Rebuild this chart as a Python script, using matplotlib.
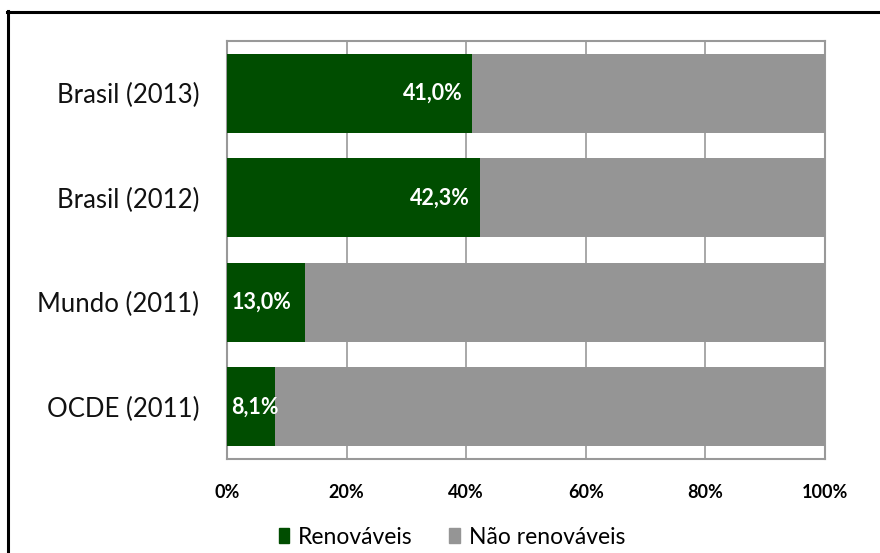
import matplotlib.pyplot as plt
from matplotlib.lines import Line2D

# data
categories = ['OCDE (2011)', 'Mundo (2011)', 'Brasil (2012)', 'Brasil (2013)']
renovaveis = [8.1, 13.0, 42.3, 41.0]
labels = ['8,1%', '13,0%', '42,3%', '41,0%']
xticks = [0, 20, 40, 60, 80, 100]

green = '#004d00'
grey = '#959595'

plt.rcParams['font.family'] = ['Lato', 'DejaVu Sans']

fig = plt.figure(figsize=(8.8, 5.53), dpi=100)
ax = fig.add_axes([227 / 880, 1 - 459 / 553, 598 / 880, 418 / 553])

y = range(len(categories))
nao = [100 - v for v in renovaveis]
ax.barh(y, renovaveis, height=0.76, color=green, zorder=3)
ax.barh(y, nao, left=renovaveis, height=0.76, color=grey, zorder=3)

for i, (v, lab) in enumerate(zip(renovaveis, labels)):
    if v > 30:
        ax.annotate(lab, (v, i), xytext=(-7, 0), textcoords='offset points',
                    ha='right', va='center', color='white', fontsize=15.5,
                    fontweight='bold')
    else:
        ax.annotate(lab, (0, i), xytext=(3, 0), textcoords='offset points',
                    ha='left', va='center', color='white', fontsize=15.5,
                    fontweight='bold')

ax.set_xlim(0, 100)
ax.set_ylim(-0.5, 3.5)
ax.set_yticks(list(y))
ax.set_yticklabels(categories, fontsize=18.5, color='#111111')
ax.set_xticks(xticks)
ax.set_xticklabels([f'{t}%' for t in xticks], fontsize=13, fontweight='bold')
ax.tick_params(axis='y', length=0, pad=20)
ax.tick_params(axis='x', length=0, pad=18)
ax.grid(axis='x', color='#999999', linewidth=1.2, zorder=0)
for s in ax.spines.values():
    s.set_color('#999999')
    s.set_linewidth(1.5)

handles = [plt.Rectangle((0, 0), 1, 1, color=green),
           plt.Rectangle((0, 0), 1, 1, color=grey)]
fig.legend(handles, ['Renováveis', 'Não renováveis'], loc='center',
           bbox_to_anchor=(452 / 880, 1 - 537 / 553), ncol=2, frameon=False,
           fontsize=16.5, handlelength=0.45, handleheight=0.6, handletextpad=0.4,
           columnspacing=1.6)

# black frame of the screenshot
fig.add_artist(Line2D([7.5 / 880, 7.5 / 880], [0, 1 - 11 / 553], color='black', lw=2.2))
fig.add_artist(Line2D([6.5 / 880, 1], [1 - 11.5 / 553, 1 - 11.5 / 553], color='black', lw=2.2))

fig.savefig('out.png', dpi=100)
